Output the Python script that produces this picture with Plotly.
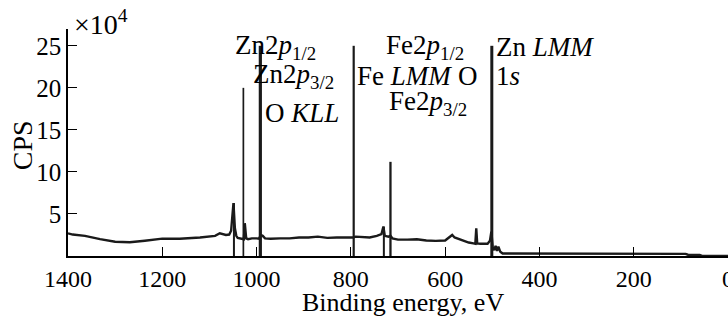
import plotly.graph_objects as go

# Spectrum (binding energy in eV, CPS in units of 10^4)
energy = [1400, 1390, 1364, 1332, 1300, 1269, 1237, 1200, 1163, 1120, 1088, 1078,
          1065, 1058, 1054, 1052, 1049, 1046, 1043, 1040, 1035, 1030, 1027, 1025,
          1022, 1018, 1010, 1000, 995, 991, 987, 982, 970, 950, 930, 910, 890, 870,
          850, 830, 810, 795, 790, 775, 760, 745, 735, 731, 728, 720, 716, 712, 700,
          680, 660, 640, 620, 600, 590, 585, 580, 570, 560, 550, 540, 536, 534, 532,
          525, 510, 505, 502, 499, 496, 493, 490, 487, 483, 478, 400, 200, 90, 85,
          60, 55, 0]
cps = [2.7, 2.55, 2.4, 2.0, 1.7, 1.63, 1.82, 2.06, 2.06, 2.2, 2.4, 2.7,
       2.5, 2.55, 3.0, 4.2, 6.3, 3.3, 2.4, 2.15, 2.1, 2.1, 2.0, 3.9,
       2.1, 2.0, 2.1, 2.1, 2.05, 2.5, 2.4, 2.1, 2.05, 2.1, 2.1, 2.2, 2.2, 2.3,
       2.15, 2.2, 2.15, 2.2, 2.3, 2.25, 2.2, 2.4, 2.6, 3.5, 2.4, 2.3, 2.4, 2.1, 1.95,
       1.95, 2.0, 1.85, 1.8, 1.85, 2.3, 2.5, 2.2, 2.0, 1.85, 1.6, 1.5, 1.45, 3.3, 1.5,
       1.45, 1.45, 1.8, 2.9, 1.0, 0.7, 1.2, 0.6, 1.1, 0.5, 0.3, 0.28, 0.28, 0.25, 0.15,
       0.12, 0.02, 0.0]

# Vertical peak markers (position in eV, top in 10^4 CPS)
stick_energy = [1048, 1028, 992, 794, 730, 716, 501]
stick_height = [6.3, 20.0, 25.0, 25.0, 3.5, 11.2, 25.0]
stick_width = [2, 1.7, 3.2, 2.2, 2, 2.3, 3]

x_ticks = [1400, 1200, 1000, 800, 600, 400, 200, 0]
x_tick_labels = ["1400", "1200", "1000", "800", "600", "400", "200", "0"]
y_ticks = [5, 10, 15, 20, 25]

# Peak labels: (text, left edge in eV, centre height in 10^4 CPS)
label_text = ["Zn2<i>p</i><sub>1/2</sub>", "Zn2<i>p</i><sub>3/2</sub>", "O <i>KLL</i>",
              "Fe2<i>p</i><sub>1/2</sub>", "Fe <i>LMM</i>", "O", "1<i>s</i>",
              "Fe2<i>p</i><sub>3/2</sub>", "Zn <i>LMM</i>"]
label_energy = [1050, 1012, 986, 729, 791, 576, 497, 723, 496]
label_height = [24.9, 21.45, 16.95, 24.9, 21.45, 21.45, 21.45, 18.2, 24.9]

FONT = "Liberation Serif, Times New Roman, serif"
INK = "#1a1a1a"

fig = go.Figure()
for e, h, w in zip(stick_energy, stick_height, stick_width):
    fig.add_trace(go.Scatter(x=[e, e], y=[0, h], mode="lines",
                             line=dict(color=INK, width=w), hoverinfo="skip"))
fig.add_trace(go.Scatter(x=energy, y=cps, mode="lines",
                         line=dict(color=INK, width=2.4), hoverinfo="skip"))

for t, e, h in zip(label_text, label_energy, label_height):
    fig.add_annotation(x=e, y=h, xref="x", yref="y", text=t, showarrow=False,
                       xanchor="left", yanchor="middle",
                       font=dict(family=FONT, size=27, color="black"))

fig.add_annotation(x=0.006, y=1.03, xref="paper", yref="paper",
                   text="×10<sup>4</sup>", showarrow=False,
                   xanchor="left", yanchor="middle",
                   font=dict(family=FONT, size=28, color="black"))

# axis titles
fig.add_annotation(x=0.508, y=-0.203, xref="paper", yref="paper",
                   text="Binding energy, eV", showarrow=False,
                   xanchor="center", yanchor="middle",
                   font=dict(family=FONT, size=26, color="black"))
fig.add_annotation(x=-0.069, y=0.49, xref="paper", yref="paper",
                   text="CPS", showarrow=False, textangle=-90,
                   xanchor="center", yanchor="middle",
                   font=dict(family=FONT, size=28, color="black"))

fig.update_layout(
    width=728, height=320,
    margin=dict(l=68, r=0, t=29, b=64),
    paper_bgcolor="white", plot_bgcolor="white",
    showlegend=False,
    font=dict(family=FONT, size=25, color="black"),
)
fig.update_xaxes(range=[1400, 0], tickvals=x_ticks, ticktext=x_tick_labels,
                 ticks="inside", ticklen=9, automargin=False,
                 ticklabeloverflow="allow",
                 tickcolor="black", tickwidth=1.2, showline=True, linecolor="black",
                 linewidth=1.5, showgrid=False, zeroline=False,
                 tickfont=dict(family=FONT, size=24))
fig.update_yaxes(range=[0, 27], tickvals=y_ticks, ticks="inside", ticklen=9,
                 automargin=False,
                 tickcolor="black", tickwidth=1.2, showline=True, linecolor="black",
                 linewidth=1.5, showgrid=False, zeroline=False,
                 tickfont=dict(family=FONT, size=25))

fig.write_html("out.html")
